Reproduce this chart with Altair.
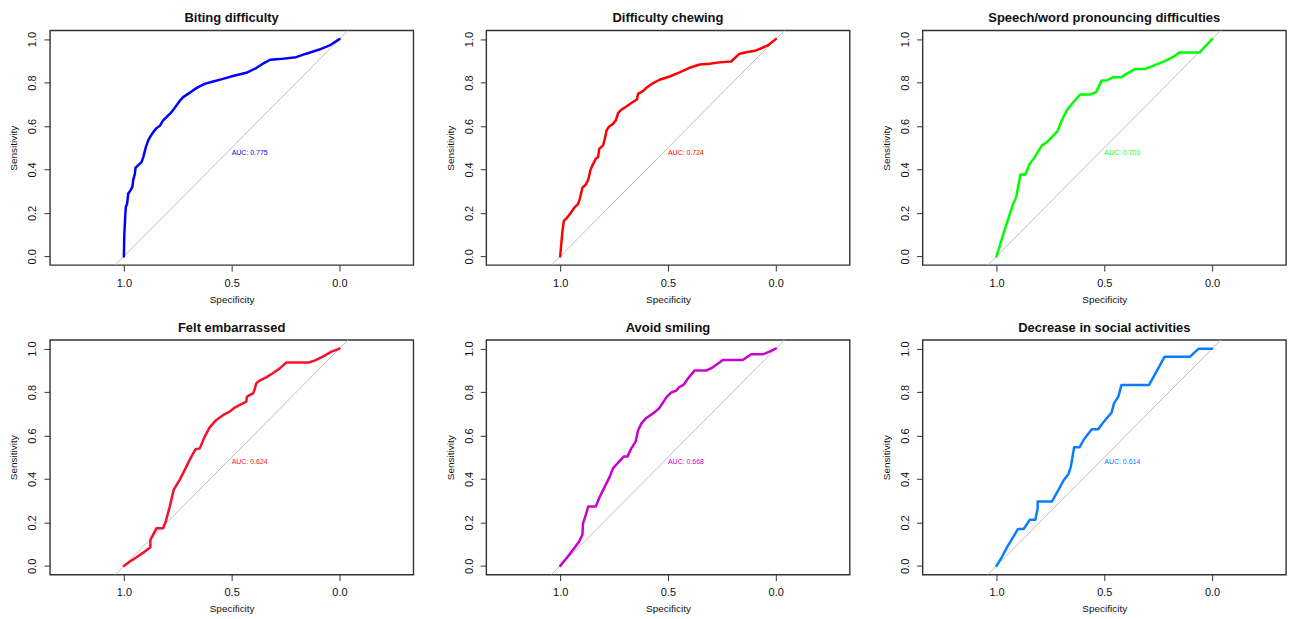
import altair as alt
import pandas as pd

FONT = "Liberation Sans"

TITLES = [
    "Biting difficulty",
    "Difficulty chewing",
    "Speech/word pronouncing difficulties",
    "Felt embarrassed",
    "Avoid smiling",
    "Decrease in social activities",
]
AUC_LABELS = ["AUC: 0.775", "AUC: 0.724", "AUC: 0.701", "AUC: 0.624", "AUC: 0.668", "AUC: 0.614"]
COLORS = ["#0000FF", "#FF0000", "#00FF00", "#F5102E", "#CC00CC", "#0A7DFF"]

SPEC_1 = [1.0, 0.998, 0.994, 0.991, 0.985, 0.980, 0.969, 0.960, 0.957, 0.949, 0.946, 0.934, 0.918, 0.910,
          0.898, 0.887, 0.877, 0.864, 0.849, 0.833, 0.818, 0.802, 0.779, 0.756, 0.741, 0.725, 0.702, 0.679,
          0.656, 0.625, 0.586, 0.540, 0.494, 0.432, 0.386, 0.355, 0.321, 0.278, 0.201, 0.154, 0.093, 0.046, 0.0]
SENS_1 = [0.0, 0.097, 0.181, 0.227, 0.242, 0.288, 0.304, 0.322, 0.350, 0.380, 0.408, 0.419, 0.434, 0.457,
          0.503, 0.534, 0.552, 0.572, 0.590, 0.601, 0.626, 0.641, 0.664, 0.695, 0.715, 0.733, 0.748, 0.764,
          0.779, 0.794, 0.805, 0.817, 0.830, 0.845, 0.867, 0.887, 0.905, 0.908, 0.917, 0.933, 0.952, 0.971, 1.0]

SPEC_2 = [1.0, 0.995, 0.989, 0.983, 0.968, 0.952, 0.932, 0.917, 0.909, 0.897, 0.881, 0.870, 0.860, 0.847,
          0.835, 0.824, 0.819, 0.801, 0.793, 0.785, 0.773, 0.755, 0.742, 0.731, 0.716, 0.693, 0.670, 0.644,
          0.639, 0.616, 0.600, 0.569, 0.539, 0.492, 0.446, 0.400, 0.353, 0.307, 0.261, 0.207, 0.168, 0.137,
          0.091, 0.037, 0.0]
SENS_2 = [0.0, 0.058, 0.120, 0.163, 0.178, 0.199, 0.227, 0.242, 0.265, 0.316, 0.331, 0.353, 0.396, 0.426,
          0.449, 0.457, 0.495, 0.511, 0.541, 0.580, 0.598, 0.610, 0.626, 0.660, 0.675, 0.690, 0.706, 0.722,
          0.748, 0.761, 0.776, 0.798, 0.813, 0.828, 0.847, 0.868, 0.883, 0.887, 0.893, 0.897, 0.933, 0.940,
          0.948, 0.971, 1.0]

SPEC_3 = [1.0, 0.982, 0.963, 0.943, 0.923, 0.908, 0.900, 0.889, 0.866, 0.846, 0.828, 0.809, 0.789, 0.766,
          0.743, 0.717, 0.697, 0.674, 0.643, 0.612, 0.566, 0.538, 0.512, 0.489, 0.458, 0.420, 0.397, 0.358,
          0.312, 0.266, 0.220, 0.182, 0.151, 0.058, 0.035, 0.0]
SENS_3 = [0.0, 0.058, 0.120, 0.181, 0.242, 0.273, 0.319, 0.377, 0.377, 0.426, 0.449, 0.480, 0.511, 0.526,
          0.549, 0.577, 0.626, 0.672, 0.710, 0.745, 0.745, 0.756, 0.810, 0.810, 0.825, 0.825, 0.840, 0.862,
          0.862, 0.880, 0.899, 0.917, 0.939, 0.939, 0.963, 1.0]

SPEC_4 = [1.0, 0.972, 0.941, 0.910, 0.877, 0.877, 0.849, 0.818, 0.806, 0.787, 0.769, 0.741, 0.710, 0.687,
          0.667, 0.648, 0.625, 0.602, 0.571, 0.532, 0.509, 0.486, 0.455, 0.432, 0.429, 0.401, 0.394, 0.386,
          0.370, 0.340, 0.309, 0.278, 0.247, 0.142, 0.116, 0.077, 0.039, 0.0]
SENS_4 = [0.0, 0.020, 0.040, 0.061, 0.086, 0.120, 0.173, 0.173, 0.204, 0.273, 0.350, 0.396, 0.457, 0.503,
          0.537, 0.541, 0.595, 0.638, 0.672, 0.699, 0.710, 0.729, 0.745, 0.756, 0.779, 0.794, 0.810, 0.840,
          0.853, 0.868, 0.887, 0.908, 0.936, 0.936, 0.945, 0.963, 0.985, 1.0]

SPEC_5 = [1.0, 0.971, 0.940, 0.912, 0.897, 0.894, 0.881, 0.870, 0.835, 0.816, 0.793, 0.770, 0.755, 0.731,
          0.705, 0.688, 0.670, 0.650, 0.639, 0.623, 0.603, 0.573, 0.542, 0.523, 0.505, 0.485, 0.461, 0.449,
          0.427, 0.407, 0.377, 0.323, 0.292, 0.245, 0.153, 0.114, 0.060, 0.029, 0.0]
SENS_5 = [0.0, 0.035, 0.074, 0.112, 0.143, 0.196, 0.235, 0.273, 0.273, 0.319, 0.365, 0.411, 0.449, 0.475,
          0.503, 0.503, 0.541, 0.572, 0.623, 0.656, 0.679, 0.699, 0.724, 0.752, 0.779, 0.798, 0.807, 0.822,
          0.834, 0.863, 0.899, 0.899, 0.914, 0.948, 0.948, 0.974, 0.974, 0.986, 1.0]

SPEC_6 = [1.0, 0.974, 0.951, 0.923, 0.900, 0.874, 0.846, 0.820, 0.809, 0.809, 0.743, 0.717, 0.689, 0.666,
          0.655, 0.646, 0.640, 0.615, 0.594, 0.558, 0.528, 0.505, 0.466, 0.455, 0.435, 0.420, 0.292, 0.258,
          0.220, 0.102, 0.062, 0.0]
SENS_6 = [0.0, 0.043, 0.086, 0.132, 0.170, 0.170, 0.212, 0.212, 0.265, 0.296, 0.296, 0.342, 0.393, 0.423,
          0.457, 0.511, 0.546, 0.546, 0.583, 0.629, 0.629, 0.660, 0.706, 0.748, 0.779, 0.833, 0.833, 0.894,
          0.963, 0.963, 1.0, 1.0]

SPECS = [SPEC_1, SPEC_2, SPEC_3, SPEC_4, SPEC_5, SPEC_6]
SENSS = [SENS_1, SENS_2, SENS_3, SENS_4, SENS_5, SENS_6]

X_TICKS = [0.0, 0.5, 1.0]
Y_TICKS = [0.0, 0.2, 0.4, 0.6, 0.8, 1.0]
X_DOMAIN = [-0.343, 1.343]
Y_DOMAIN = [-0.04, 1.04]
DIAG_SPEC = [1.5, -0.5]
DIAG_SENS = [-0.5, 1.5]
AUC_POS = 0.5

TEXT_COLOR = "#111111"


def panel(i):
    xs = alt.Scale(domain=X_DOMAIN, reverse=True, nice=False, zero=False)
    ys = alt.Scale(domain=Y_DOMAIN, nice=False, zero=False)
    x_axis = alt.Axis(values=X_TICKS, format=".1f", title="Specificity", grid=False, domain=False,
                      tickSize=6, tickColor="#333333", tickWidth=1, labelFontSize=11, labelPadding=6,
                      labelColor=TEXT_COLOR, titleColor=TEXT_COLOR, titleFontSize=10,
                      titleFontWeight="normal", titlePadding=6, labelFlush=False, labelOverlap=False)
    y_axis = alt.Axis(values=Y_TICKS, format=".1f", title="Sensitivity", grid=False, domain=False,
                      tickSize=6, tickColor="#333333", tickWidth=1, labelFontSize=11, labelPadding=6,
                      labelAngle=270, labelAlign="center", labelBaseline="bottom",
                      labelColor=TEXT_COLOR, titleColor=TEXT_COLOR, titleFontSize=10,
                      titleFontWeight="normal", titlePadding=8, labelFlush=False, labelOverlap=False)
    X = alt.X("spec:Q", scale=xs, axis=x_axis)
    Y = alt.Y("sens:Q", scale=ys, axis=y_axis)

    diag_df = pd.DataFrame({"spec": DIAG_SPEC, "sens": DIAG_SENS, "o": [0, 1]})
    roc_df = pd.DataFrame({"spec": SPECS[i], "sens": SENSS[i], "o": list(range(len(SPECS[i])))})
    txt_df = pd.DataFrame({"spec": [AUC_POS], "sens": [AUC_POS], "label": [AUC_LABELS[i]]})

    diag = alt.Chart(diag_df).mark_line(color="#BEBEBE", strokeWidth=1, clip=True).encode(
        x=X, y=Y, order="o:Q")
    roc = alt.Chart(roc_df).mark_line(color=COLORS[i], strokeWidth=2.5, clip=True,
                                      strokeJoin="round", strokeCap="round").encode(
        x=X, y=Y, order="o:Q")
    txt = alt.Chart(txt_df).mark_text(align="left", baseline="top", fontSize=7, color=COLORS[i],
                                      dy=1).encode(x=X, y=Y, text="label:N")
    return alt.layer(diag, roc, txt).properties(
        width=364, height=235,
        title=alt.TitleParams(TITLES[i], fontSize=13, fontWeight="bold", offset=5, color=TEXT_COLOR,
                              font=FONT, anchor="middle"),
    )


chart = alt.concat(*[panel(i) for i in range(6)], columns=3,
                   spacing={"row": 75, "column": 73}, bounds="flush").properties(
    padding={"left": 0, "top": 3, "right": 0, "bottom": 0}
).configure(font=FONT).configure_view(stroke="#333333", strokeWidth=1.4)

chart.save("out.html", embed_options={"renderer": "svg", "actions": False})
